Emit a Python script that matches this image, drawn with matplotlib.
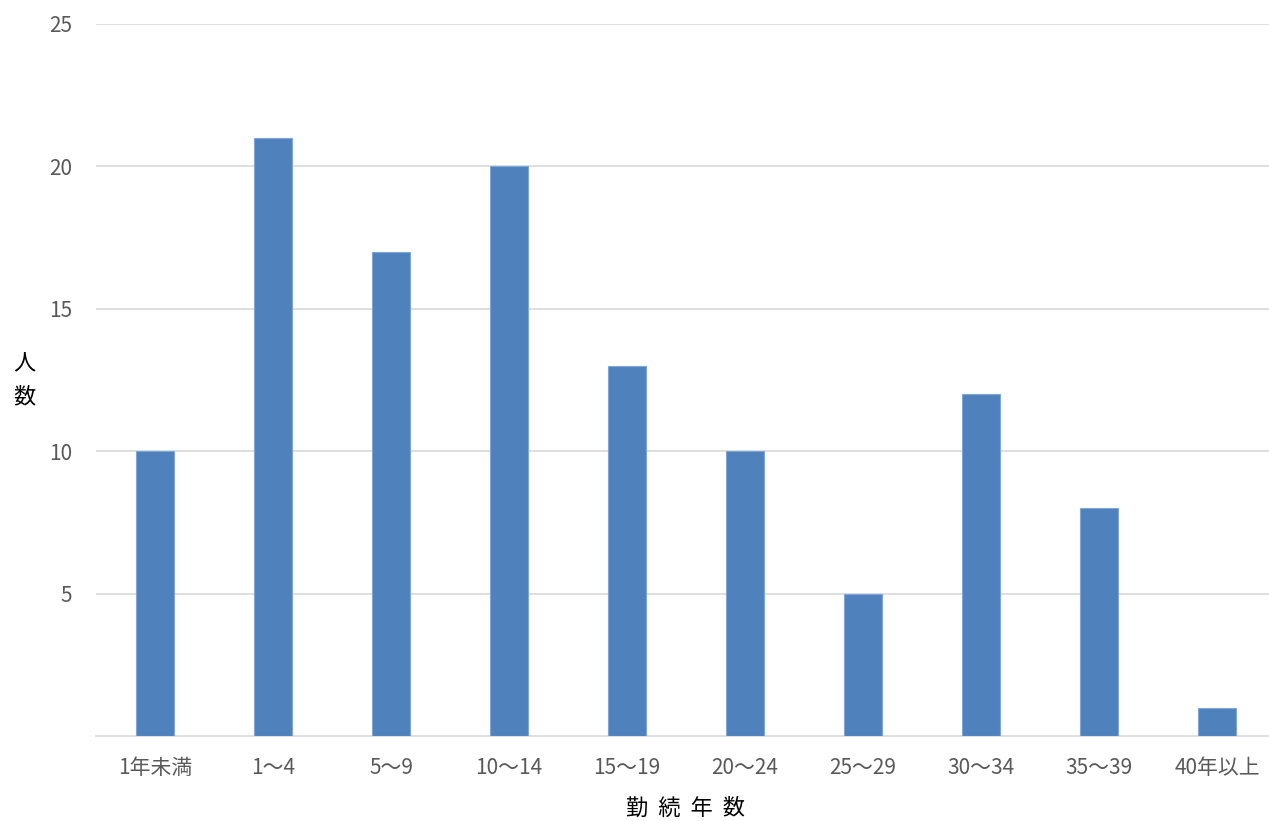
import matplotlib.pyplot as plt

plt.rcParams['font.family'] = ['Noto Sans CJK JP', 'DejaVu Sans']

categories = ['1年未満', '1～4', '5～9', '10～14', '15～19',
              '20～24', '25～29', '30～34', '35～39', '40年以上']
counts = [10, 21, 17, 20, 13, 10, 5, 12, 8, 1]
y_ticks = [5, 10, 15, 20, 25]

fig = plt.figure(figsize=(12.69, 8.21), dpi=100)
ax = fig.add_axes([96 / 1269, 85 / 821, 1180 / 1269, 712 / 821])

x = range(len(categories))
ax.bar(x, counts, width=0.32, color='#4F81BD', edgecolor='#7FA6D6',
       linewidth=0.8, zorder=3)

ax.set_xlim(-0.5, len(categories) - 0.5)
ax.set_ylim(0, 25)
ax.set_yticks(y_ticks)
ax.set_xticks(list(x))
ax.set_xticklabels(categories)
ax.grid(axis='y', color='#D9D9D9', linewidth=1.2, zorder=0)

for side in ('top', 'right', 'left'):
    ax.spines[side].set_visible(False)
ax.spines['bottom'].set_color('#D9D9D9')
ax.spines['bottom'].set_linewidth(1.2)

ax.tick_params(axis='both', length=0, labelsize=15, labelcolor='#595959')
ax.tick_params(axis='y', pad=17)
ax.tick_params(axis='x', pad=15)

# vertical y-axis title, one character per line
fig.text(24 / 1269, 1 - 364 / 821, '人', fontsize=16, ha='center', va='center')
fig.text(24 / 1269, 1 - 397 / 821, '数', fontsize=16, ha='center', va='center')
fig.text(686 / 1269, 1 - 808 / 821, '勤  続  年  数', fontsize=16,
         ha='center', va='center')

fig.savefig('out.png', dpi=100)
